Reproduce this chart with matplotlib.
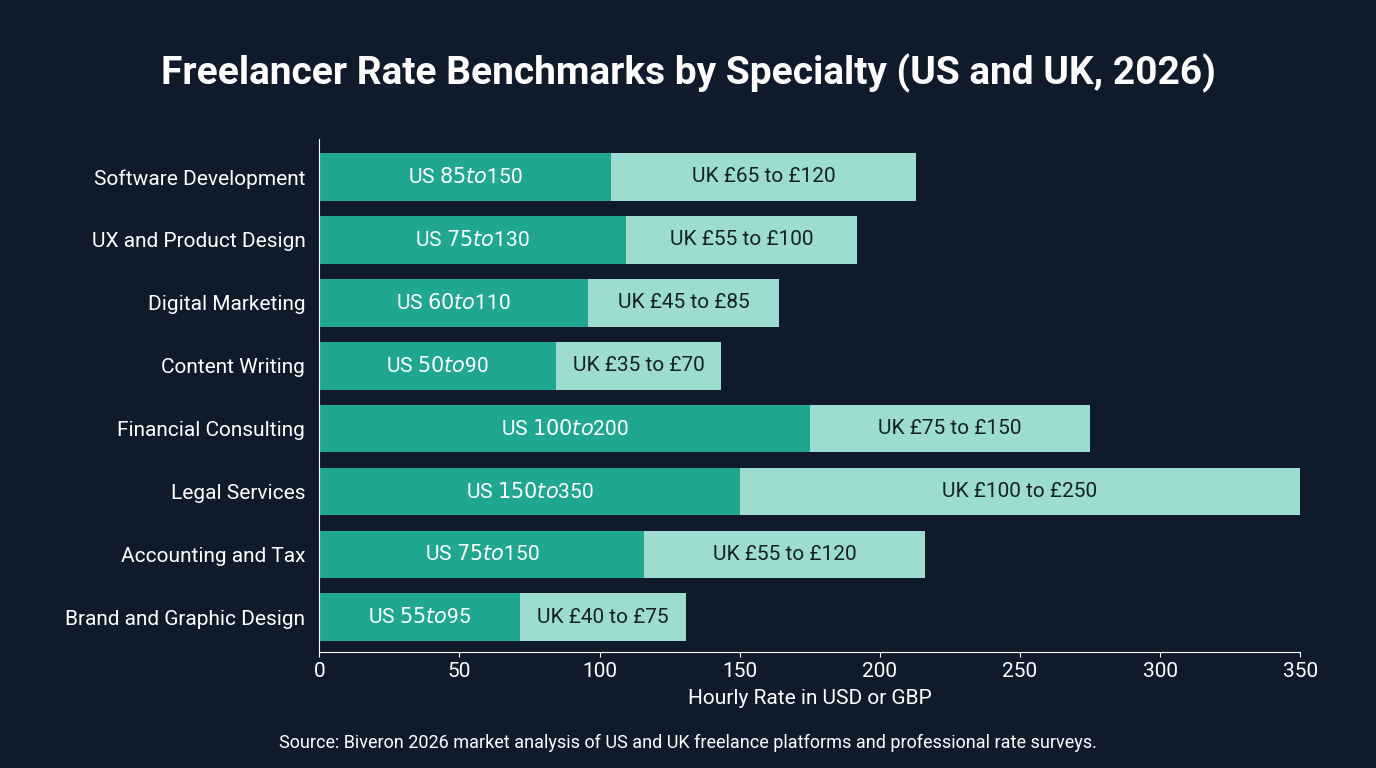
import matplotlib.pyplot as plt
import numpy as np

specialties = ["Software Development", "UX and Product Design", "Digital Marketing",
               "Content Writing", "Financial Consulting", "Legal Services",
               "Accounting and Tax", "Brand and Graphic Design"]
us_len = [104, 109.5, 96, 84.5, 175, 150, 116, 71.5]
uk_len = [109, 82.5, 68, 59, 100, 200, 100, 59.5]
us_labels = ["US $85 to $150", "US $75 to $130", "US $60 to $110", "US $50 to $90",
             "US $100 to $200", "US $150 to $350", "US $75 to $150", "US $55 to $95"]
uk_labels = ["UK £65 to £120", "UK £55 to £100", "UK £45 to £85", "UK £35 to £70",
             "UK £75 to £150", "UK £100 to £250", "UK £55 to £120", "UK £40 to £75"]

bg = "#0f1b2b"
plt.rcParams['font.family'] = ['Roboto', 'DejaVu Sans']
fig = plt.figure(figsize=(13.76, 7.68), dpi=100, facecolor=bg)
ax = fig.add_axes([0.232, 0.151, 0.713, 0.668], facecolor=bg)

y = np.arange(len(specialties))
b1 = ax.barh(y, us_len, height=0.76, color="#1fa88f")
b2 = ax.barh(y, uk_len, left=us_len, height=0.76, color="#9ddcd0")
for i in range(len(y)):
    ax.text(us_len[i] / 2, y[i], us_labels[i], ha="center", va="center", color="white", fontsize=15)
    ax.text(us_len[i] + uk_len[i] / 2, y[i], uk_labels[i], ha="center", va="center", color="#14202e", fontsize=15)

ax.set_yticks(y)
ax.set_yticklabels(specialties, fontsize=15, color="white")
ax.invert_yaxis()
ax.set_ylim(7.55, -0.6)
ax.set_xlim(0, 350)
ax.set_xticks(range(0, 351, 50))
ax.tick_params(axis="x", colors="white", labelsize=15)
ax.tick_params(axis="y", length=0, pad=10)
for s in ["top", "right"]:
    ax.spines[s].set_visible(False)
for s in ["left", "bottom"]:
    ax.spines[s].set_color("white")
ax.set_xlabel("Hourly Rate in USD or GBP", color="white", fontsize=15, labelpad=6)

fig.text(0.5, 0.905, "Freelancer Rate Benchmarks by Specialty (US and UK, 2026)",
         ha="center", va="center", color="white", fontsize=28, fontweight="bold")
fig.text(0.5, 0.033, "Source: Biveron 2026 market analysis of US and UK freelance platforms and professional rate surveys.",
         ha="center", va="center", color="white", fontsize=13)

fig.savefig("out.png", dpi=100, facecolor=bg)
